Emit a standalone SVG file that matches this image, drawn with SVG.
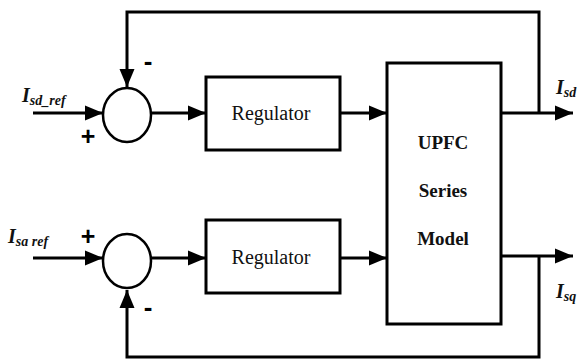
<svg xmlns="http://www.w3.org/2000/svg" width="582" height="362" viewBox="0 0 582 362">
  <style>
    .wire { fill: none; stroke: #000; stroke-width: 3; stroke-linejoin: miter; }
    .box { fill: #fff; stroke: #000; stroke-width: 3; }
    .sum { fill: #fff; stroke: #000; stroke-width: 2.5; }
    .reg { font-family: "Liberation Serif", serif; font-size: 20px; fill: #111; text-anchor: middle; }
    .plant { font-family: "Liberation Serif", serif; font-size: 19px; font-weight: bold; fill: #111; text-anchor: middle; }
    .sig { font-family: "Liberation Serif", serif; font-weight: bold; font-style: italic; fill: #111; }
    .sign { font-family: "Liberation Sans", sans-serif; font-weight: bold; fill: #000; text-anchor: middle; }
  </style>
  <defs>
    <marker id="arrow" markerUnits="userSpaceOnUse" markerWidth="18" markerHeight="16" refX="18" refY="8" orient="auto">
      <path d="M0,0.5 L18,8 L0,15.5 Z" fill="#000"/>
    </marker>
  </defs>
  <rect width="582" height="362" fill="#fff"/>

  <!-- signal paths -->
  <g id="connectors">
    <line class="wire" x1="33" y1="113" x2="103" y2="113" marker-end="url(#arrow)"/>
    <line class="wire" x1="151" y1="113" x2="206" y2="113" marker-end="url(#arrow)"/>
    <line class="wire" x1="340" y1="113" x2="387" y2="113" marker-end="url(#arrow)"/>
    <line class="wire" x1="501" y1="113" x2="573" y2="113" marker-end="url(#arrow)"/>
    <path class="wire" d="M539,113 V12 H127 V87" marker-end="url(#arrow)"/>

    <line class="wire" x1="33" y1="258" x2="103" y2="258" marker-end="url(#arrow)"/>
    <line class="wire" x1="151" y1="258" x2="206" y2="258" marker-end="url(#arrow)"/>
    <line class="wire" x1="340" y1="258" x2="387" y2="258" marker-end="url(#arrow)"/>
    <line class="wire" x1="501" y1="256" x2="573" y2="256" marker-end="url(#arrow)"/>
    <path class="wire" d="M539,256 V357 H127 V290" marker-end="url(#arrow)"/>
  </g>

  <!-- d-axis summing junction -->
  <g id="sum-d">
    <ellipse class="sum" cx="127" cy="115" rx="24" ry="27"/>
    <text class="sign" x="88" y="145" font-size="25">+</text>
    <text class="sign" x="148" y="70" font-size="26">-</text>
  </g>

  <!-- q-axis summing junction -->
  <g id="sum-q">
    <ellipse class="sum" cx="127" cy="261" rx="24" ry="27"/>
    <text class="sign" x="88" y="245" font-size="25">+</text>
    <text class="sign" x="148" y="316" font-size="26">-</text>
  </g>

  <g id="regulator-d">
    <rect class="box" x="206" y="77" width="134" height="73"/>
    <text class="reg" x="271" y="120">Regulator</text>
  </g>

  <g id="regulator-q">
    <rect class="box" x="206" y="220" width="134" height="73"/>
    <text class="reg" x="271" y="264">Regulator</text>
  </g>

  <g id="upfc-model">
    <rect class="box" x="387" y="63" width="114" height="261"/>
    <text class="plant" x="443" y="149">UPFC</text>
    <text class="plant" x="443" y="197">Series</text>
    <text class="plant" x="443" y="245">Model</text>
  </g>

  <!-- signal labels -->
  <g id="labels">
    <text class="sig" x="22" y="102" font-size="20">I<tspan font-size="14" dy="3">sd_ref</tspan></text>
    <text class="sig" x="8" y="243" font-size="20">I<tspan font-size="14" dy="3">sa ref</tspan></text>
    <text class="sig" x="556" y="94" font-size="20">I<tspan font-size="14" dy="3">sd</tspan></text>
    <text class="sig" x="556" y="298" font-size="20">I<tspan font-size="14" dy="3">sq</tspan></text>
  </g>
</svg>
